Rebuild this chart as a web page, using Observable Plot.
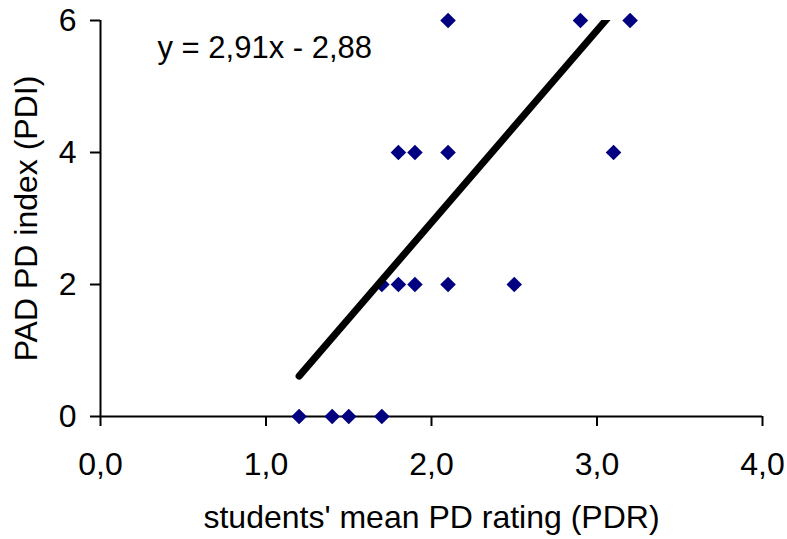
<!DOCTYPE html>
<html><head><meta charset="utf-8">
<script src="https://cdn.jsdelivr.net/npm/d3@7"></script>
<script src="https://cdn.jsdelivr.net/npm/@observablehq/plot@0.6"></script>
<style>body{margin:0;background:#fff} svg{display:block}</style>
</head><body><div id="chart"></div>
<script>
const pdr = [1.2, 1.4, 1.5, 1.7, 1.7, 1.8, 1.9, 2.1, 2.5, 1.8, 1.9, 2.1, 3.1, 2.1, 2.9, 3.2];
const pdi = [0, 0, 0, 0, 2, 2, 2, 2, 2, 4, 4, 4, 4, 6, 6, 6];
const xTicks = [0, 1, 2, 3, 4];
const yTicks = [0, 2, 4, 6];
const slope = 2.91, intercept = -2.88;
const equation = "y = 2,91x - 2,88";
const xLabel = "students' mean PD rating (PDR)";
const yLabel = "PAD PD index (PDI)";

const points = pdr.map((x, i) => ({x, y: pdi[i]}));
const trend = d3.extent(pdr).map(x => ({x, y: slope * x + intercept}));
const font = "'Liberation Sans', Arial, sans-serif";

const chart = Plot.plot({
  width: 787, height: 539,
  marginLeft: 100, marginRight: 25, marginTop: 20, marginBottom: 123,
  x: {domain: [0, 4]},
  y: {domain: [0, 6]},
  style: {fontFamily: font, fontSize: "32px", color: "#000", background: "#fff"},
  marks: [
    Plot.ruleX([0], {stroke: "#000", strokeWidth: 2}),
    Plot.ruleY([0], {stroke: "#000", strokeWidth: 2}),
    Plot.axisX({ticks: xTicks, tickSize: 10, tickPadding: 26, strokeWidth: 2, fontSize: 32,
      tickFormat: d => d.toFixed(1).replace(".", ","), label: null}),
    Plot.axisY({ticks: yTicks, tickSize: 10, tickPadding: 14, strokeWidth: 2, fontSize: 32,
      tickFormat: d => String(d), label: null}),
    Plot.dot(points, {x: "x", y: "y", symbol: "diamond2", r: 7, fill: "#000080", stroke: "none"}),
    Plot.line(trend, {x: "x", y: "y", stroke: "#000", strokeWidth: 7, strokeLinecap: "round", clip: true}),
    Plot.text([equation], {text: d => d, frameAnchor: "top-left", dx: 57, dy: 27.5,
      textAnchor: "start", lineAnchor: "middle", fontSize: 31}),
    Plot.text([xLabel], {text: d => d, frameAnchor: "bottom", dy: 101, textAnchor: "middle", lineAnchor: "middle", fontSize: 32}),
    Plot.text([yLabel], {text: d => d, frameAnchor: "left", rotate: -90, dx: -74, textAnchor: "middle", lineAnchor: "middle", fontSize: 32})
  ]
});
document.getElementById("chart").appendChild(chart);
</script>
</body></html>
